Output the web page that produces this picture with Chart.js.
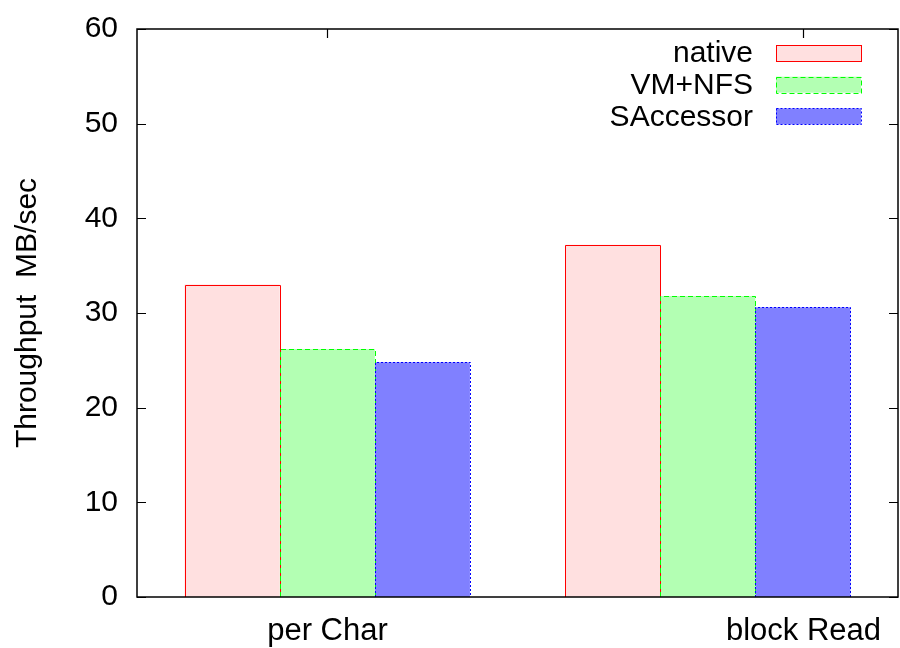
<!DOCTYPE html>
<html>
<head>
<meta charset="utf-8">
<script src="https://cdn.jsdelivr.net/npm/chart.js@4.4.0/dist/chart.umd.min.js"></script>
<style>
  html, body { margin: 0; background: #fff; }
  #wrap { width: 900px; height: 648px; }
</style>
</head>
<body>
<div id="wrap"><canvas id="myChart"></canvas></div>
<script>
const categories = ["per Char", "block Read"];
const seriesNames = ["native", "VM+NFS", "SAccessor"];
const nativeValues = [33.0, 37.2];
const vmNfsValues = [26.2, 31.8];
const saccessorValues = [24.8, 30.6];
// gnuplot put the "block Read" tic one bar to the right of the group centre
const tickShift = [0, 1];

const FONT = '"Liberation Sans", Arial, sans-serif';

const styles = [
    {fill: 'rgb(255,224,224)', line: 'rgb(255,0,0)', dash: []},
    {fill: 'rgb(179,255,179)', line: 'rgb(0,255,0)', dash: [5, 3]},
    {fill: 'rgb(128,128,255)', line: 'rgb(0,0,255)', dash: [2, 2]}
];

// frame, inward tics, dashed bar outlines, x labels and key, drawn gnuplot style
const gnuplotLook = {
    id: 'gnuplotLook',
    afterDatasetsDraw(chart) {
        const ctx = chart.ctx;
        const area = chart.chartArea;
        const xs = chart.scales.x;
        const ys = chart.scales.y;
        ctx.save();

        // bar outlines
        chart.data.datasets.forEach((ds, i) => {
            const meta = chart.getDatasetMeta(i);
            ctx.strokeStyle = styles[i].line;
            ctx.setLineDash(styles[i].dash);
            ctx.lineWidth = 1;
            meta.data.forEach(bar => {
                const p = bar.getProps(['x', 'y', 'base', 'width'], true);
                const l = Math.round(p.x - p.width / 2) + 0.5;
                const r = Math.round(p.x + p.width / 2) + 0.5;
                const t = Math.round(p.y) + 0.5;
                const b = Math.round(p.base);
                ctx.beginPath();
                ctx.moveTo(l, b);
                ctx.lineTo(l, t);
                ctx.lineTo(r, t);
                ctx.lineTo(r, b);
                ctx.stroke();
            });
        });
        ctx.setLineDash([]);

        // border
        ctx.strokeStyle = '#000';
        ctx.lineWidth = 1.5;
        ctx.strokeRect(area.left, area.top, area.right - area.left, area.bottom - area.top);

        // y tics, left and mirrored right
        ctx.lineWidth = 1.2;
        ys.ticks.forEach(t => {
            const y = Math.round(ys.getPixelForValue(t.value)) + 0.5;
            ctx.beginPath();
            ctx.moveTo(area.left, y); ctx.lineTo(area.left + 9, y);
            ctx.moveTo(area.right, y); ctx.lineTo(area.right - 9, y);
            ctx.stroke();
        });

        // x tics on top and labels below
        const barW = chart.getDatasetMeta(0).data[0].width;
        ctx.fillStyle = '#000';
        ctx.font = '31px ' + FONT;
        ctx.textAlign = 'center';
        ctx.textBaseline = 'middle';
        categories.forEach((c, i) => {
            const x = Math.round(xs.getPixelForValue(i) + tickShift[i] * barW) + 0.5;
            ctx.beginPath();
            ctx.moveTo(x, area.top); ctx.lineTo(x, area.top + 9);
            ctx.stroke();
            ctx.fillText(c, x, area.bottom + 34);
        });

        // key
        ctx.font = '30px ' + FONT;
        ctx.textAlign = 'right';
        chart.data.datasets.forEach((ds, i) => {
            const yc = area.top + 24 + i * 31.7;
            ctx.fillStyle = '#000';
            ctx.fillText(ds.label, 753, yc + 1);
            ctx.fillStyle = styles[i].fill;
            ctx.fillRect(776, yc - 8, 85, 16);
            ctx.strokeStyle = styles[i].line;
            ctx.setLineDash(styles[i].dash);
            ctx.lineWidth = 1;
            ctx.strokeRect(776.5, Math.round(yc - 8) + 0.5, 85, 16);
        });
        ctx.restore();
    }
};

const data = {
    labels: categories,
    datasets: [
        {label: seriesNames[0], data: nativeValues, backgroundColor: styles[0].fill, borderWidth: 0},
        {label: seriesNames[1], data: vmNfsValues, backgroundColor: styles[1].fill, borderWidth: 0},
        {label: seriesNames[2], data: saccessorValues, backgroundColor: styles[2].fill, borderWidth: 0}
    ]
};

const config = {
    type: 'bar',
    data: data,
    options: {
        responsive: true,
        maintainAspectRatio: false,
        animation: false,
        layout: {padding: {top: 19, right: 2, left: 0, bottom: 0}},
        datasets: {bar: {categoryPercentage: 0.75, barPercentage: 1.0}},
        plugins: {legend: {display: false}, tooltip: {enabled: false}},
        scales: {
            x: {
                offset: true,
                grid: {display: false},
                border: {display: false},
                ticks: {display: false},
                afterFit(scale) { scale.height = 51; }
            },
            y: {
                min: 0,
                max: 60,
                grid: {display: false},
                border: {display: false},
                ticks: {
                    stepSize: 10,
                    color: '#000',
                    padding: 11,
                    font: {family: FONT, size: 30}
                },
                title: {
                    display: true,
                    text: 'Throughput  MB/sec',
                    color: '#000',
                    padding: {top: 10, bottom: 0},
                    font: {family: FONT, size: 30}
                },
                afterFit(scale) { scale.width = 137; }
            }
        }
    },
    plugins: [gnuplotLook]
};

var myChart = new Chart(document.getElementById('myChart'), config);
</script>
</body>
</html>
